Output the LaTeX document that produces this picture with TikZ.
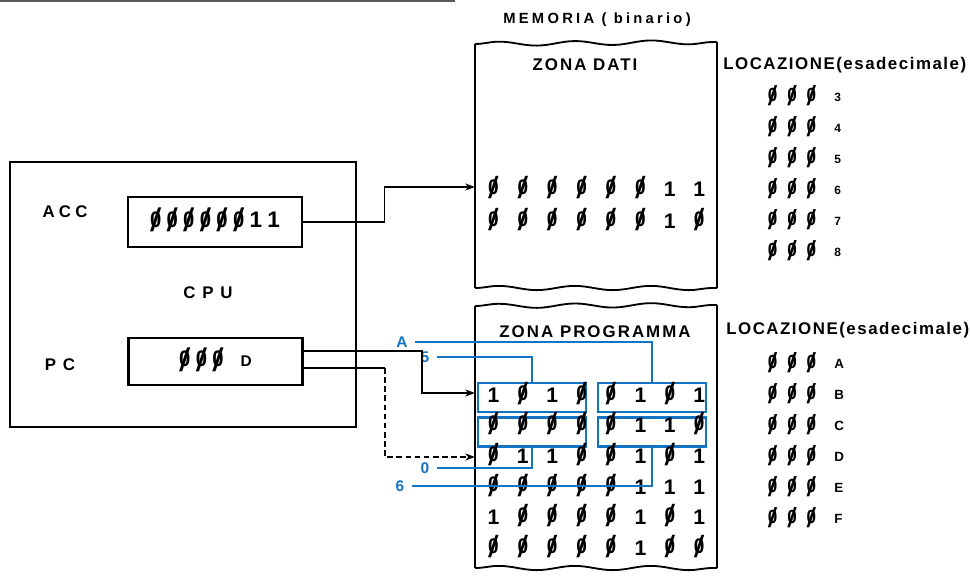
\documentclass[tikz,border=0pt]{standalone}
\usepackage{fontspec}
\usepackage{graphicx}
\setmainfont{Liberation Sans}
\usetikzlibrary{arrows.meta,positioning,calc,decorations.pathmorphing}
\definecolor{progblue}{RGB}{20,115,195}
% slashed zero as printed in the listing
\newcommand{\zslash}{\ooalign{\hfil\scalebox{0.9}[1]{0}\hfil\cr\hfil\raisebox{-0.2em}{\scalebox{1.8}[1.45]{\mdseries/}}\hfil\cr}}
\newcommand{\regsep}{\hspace{3.8pt}}
\newcommand{\locsep}{\hspace{7pt}}

\begin{document}
\begin{tikzpicture}[x=0.025cm, y=-0.025cm,
    every node/.style={inner sep=0pt},
    lbl/.style={font=\fontsize{12}{14}\selectfont\bfseries\addfontfeature{LetterSpace=12}},
    memlbl/.style={font=\fontsize{10.5}{12}\selectfont\bfseries\addfontfeature{LetterSpace=22}},
    loclbl/.style={font=\fontsize{12}{14}\selectfont\bfseries\addfontfeature{LetterSpace=9}, anchor=west},
    wide/.style={font=\fontsize{12}{14}\selectfont\bfseries\addfontfeature{LetterSpace=25}},
    bit/.style={font=\fontsize{15}{17}\selectfont\bfseries},
    loc/.style={font=\fontsize{13.5}{15}\selectfont\bfseries},
    locid/.style={font=\fontsize{8.5}{10}\selectfont\bfseries, anchor=west},
    regbox/.style={draw, line width=2pt, minimum width=4.35cm, minimum height=1.25cm},
    cpubox/.style={draw, line width=2pt, minimum width=8.65cm, minimum height=6.625cm},
    side/.style={line width=2pt},
    torn/.style={line width=1.3pt, decorate, decoration={snake, amplitude=1.5pt, segment length=1.9cm}},
    link/.style={line width=1.1pt, -{Stealth[length=7pt,width=5pt]}},
    nibble/.style={draw=progblue, line width=1.6pt, minimum width=2.7cm, minimum height=0.72cm},
    ptr/.style={draw=progblue, line width=0.8pt},
    ptrlbl/.style={text=progblue, font=\fontsize{11}{13}\selectfont\bfseries}]
    \useasboundingbox (0,0) rectangle (970,577);
    % page rule
    \draw[line width=1.5pt, gray!70!black] (0,1) -- (455,1);

    % CPU
    \node[cpubox] (cpu) at (183,294.5) {};
    \node[wide] (acclbl) at (65,212) {ACC};
    \node[regbox] (acc) at (215,222)
        {\fontsize{16}{18}\selectfont\bfseries\zslash\regsep\zslash\regsep\zslash\regsep\zslash\regsep\zslash\regsep\zslash\regsep1\regsep1};
    \node[lbl] (cpulbl) at (208,293) {C P U};
    \node[lbl] (pclbl) at (60,365) {P C};
    \node[regbox, minimum height=1.175cm] (pc) at (215.5,361.5)
        {\fontsize{16}{18}\selectfont\bfseries\zslash\regsep\zslash\regsep\zslash\hspace{12pt}{\fontsize{11}{13}\selectfont D}\hspace{15pt}};

    % memoria: zona dati
    \node[memlbl] (mem) at (597,20) {MEMORIA ( binario)};
    \draw[side] (475,44) -- (475,288);
    \draw[side] (717,42) -- (717,288);
    \draw[torn] (475,44) -- (717,42);
    \draw[torn] (475,288) -- (717,288);
    \node[lbl] (zdati) at (585,65) {ZONA DATI};
    \node[loclbl] (locdati) at (723,65) {LOCAZIONE(esadecimale)};
    \foreach \row [count=\r] in {{0,0,0,0,0,0,1,1},{0,0,0,0,0,0,1,0}}
        \foreach \b [count=\c] in \row
            \node[bit] (dat-\r-\c) at ({464+29.4*\c},{157+32*\r}) {\ifnum\b=0 \zslash\else 1\fi};
    \foreach \h [count=\i] in {3,...,8} {
        \node[loc] (ld-\h) at (792,{66+31*\i}) {\zslash\locsep\zslash\locsep\zslash};
        \node[locid] (ldid-\h) at (834,{66+31*\i}) {\h};
    }

    % memoria: zona programma
    \draw[side] (475,306) -- (475,568);
    \draw[side] (717,305) -- (717,568);
    \draw[torn] (475,306) -- (717,305);
    \draw[torn] (475,568) -- (717,568);
    \node[lbl] (zprog) at (595,332) {ZONA PROGRAMMA};
    \node[loclbl] (locprog) at (726,330) {LOCAZIONE(esadecimale)};
    \node[nibble] (n1l) at (532,397.5) {};
    \node[nibble] (n1r) at (652,397.5) {};
    \node[nibble] (n2l) at (532,432) {};
    \node[nibble] (n2r) at (652,432) {};
    \foreach \row [count=\r] in {{1,0,1,0,0,1,0,1},{0,0,0,0,0,1,1,0},{0,1,1,0,0,1,0,1},
                                 {0,0,0,0,0,1,1,1},{1,0,0,0,0,1,0,1},{0,0,0,0,0,1,0,0}}
        \foreach \b [count=\c] in \row
            \node[bit] (prg-\r-\c) at ({464+29.4*\c},{364.4+30.6*\r}) {\ifnum\b=0 \zslash\else 1\fi};
    \foreach \h [count=\i] in {A,B,C,D,E,F} {
        \node[loc] (lp-\h) at (792,{333+31*\i}) {\zslash\locsep\zslash\locsep\zslash};
        \node[locid, font=\fontsize{9.5}{11}\selectfont\bfseries] (lpid-\h) at (834,{333+31*\i}) {\h};
    }

    % puntatori
    \node[ptrlbl] (pA) at (402,342) {A};
    \node[ptrlbl] (p5) at (425,357) {5};
    \node[ptrlbl] (p0) at (425,468) {0};
    \node[ptrlbl] (p6) at (400,486) {6};
    \draw[ptr] ([xshift=5pt]pA.east) -| (n1r.north);
    \draw[ptr] ([xshift=5pt]p5.east) -| (n1l.north);
    \draw[ptr] ([xshift=5pt]p0.east) -| (n2l.south);
    \draw[ptr] ([xshift=5pt]p6.east) -| (n2r.south);

    % collegamenti
    \coordinate (datin) at (475,187);
    \coordinate (prgB) at (475,393);
    \coordinate (prgD) at (475,457);
    \draw[link] (acc.east) -- ++(81,0) |- (datin);
    \draw[link] ([yshift=7.5pt]pc.east) -- ++(118,0) |- (prgB);
    \draw[line width=1.1pt] ([yshift=-4.6pt]pc.east) -- ++(81,0) coordinate (pcturn);
    \draw[link, dash pattern=on 4pt off 2.5pt] (pcturn) |- (prgD);
\end{tikzpicture}
\end{document}
